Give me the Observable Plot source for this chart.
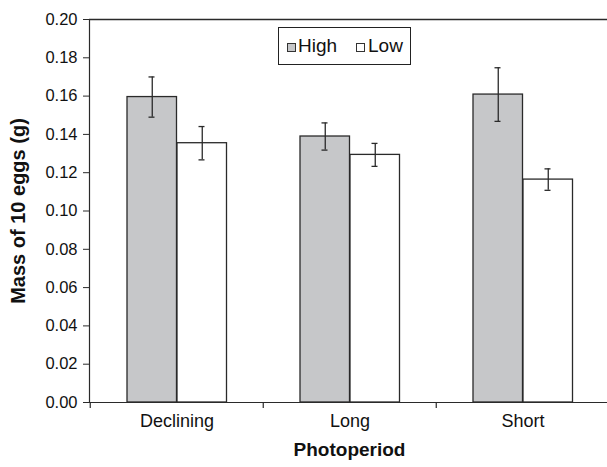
<!DOCTYPE html>
<html><head><meta charset="utf-8">
<script src="https://cdn.jsdelivr.net/npm/d3@7"></script>
<script src="https://cdn.jsdelivr.net/npm/@observablehq/plot@0.6"></script>
<style>
body{margin:0;background:#fff;}
#wrap{position:relative;width:607px;height:467px;overflow:hidden;font-family:"Liberation Sans",Arial,sans-serif;}
#legend{position:absolute;left:278px;top:27px;width:131px;height:36px;border:1px solid #222;background:#fff;font-size:19px;color:#111;}
#legend .sw{position:absolute;top:15px;width:7px;height:7px;border:1px solid #333;}
#legend .lb{position:absolute;top:0;line-height:36px;}
</style></head><body><div id="wrap"></div>
<script>
const photoperiods = ["Declining", "Long", "Short"];
const groups = ["High", "Low"];
const highMean = [0.1595, 0.1389, 0.1608];
const highErr = [0.0105, 0.0071, 0.0140];
const lowMean = [0.1354, 0.1293, 0.1164];
const lowErr = [0.0087, 0.0060, 0.0056];
const yTicks = [0, 0.02, 0.04, 0.06, 0.08, 0.10, 0.12, 0.14, 0.16, 0.18, 0.20];
const groupColors = ["#c6c7c9", "#ffffff"];

const high = photoperiods.map((p, i) => ({period: p, mean: highMean[i], lo: highMean[i] - highErr[i], hi: highMean[i] + highErr[i]}));
const low = photoperiods.map((p, i) => ({period: p, mean: lowMean[i], lo: lowMean[i] - lowErr[i], hi: lowMean[i] + lowErr[i]}));

const dark = "#2a2a2a";
const chart = Plot.plot({
  width: 607,
  height: 467,
  marginTop: 19,
  marginBottom: 65,
  marginLeft: 89,
  marginRight: 0,
  style: {fontFamily: "'Liberation Sans', Arial, sans-serif", background: "#fff", color: "#111"},
  x: {type: "band", domain: photoperiods, range: [89, 609.5], padding: 0},
  y: {domain: [0, 0.2]},
  marks: [
    Plot.barY(high, {x: "period", y: "mean", fill: groupColors[0], stroke: dark, strokeWidth: 1.3, insetLeft: 37, insetRight: 86.5}),
    Plot.barY(low, {x: "period", y: "mean", fill: groupColors[1], stroke: dark, strokeWidth: 1.3, insetLeft: 87, insetRight: 36.5}),
    Plot.ruleX(high, {x: "period", y1: "lo", y2: "hi", dx: -24.75, stroke: dark, strokeWidth: 1.3}),
    Plot.ruleX(low, {x: "period", y1: "lo", y2: "hi", dx: 25.25, stroke: dark, strokeWidth: 1.3}),
    Plot.tickY(high, {x: "period", y: "lo", insetLeft: 58.5, insetRight: 108.5, stroke: dark, strokeWidth: 1.3}),
    Plot.tickY(high, {x: "period", y: "hi", insetLeft: 58.5, insetRight: 108.5, stroke: dark, strokeWidth: 1.3}),
    Plot.tickY(low, {x: "period", y: "lo", insetLeft: 108.5, insetRight: 58.5, stroke: dark, strokeWidth: 1.3}),
    Plot.tickY(low, {x: "period", y: "hi", insetLeft: 108.5, insetRight: 58.5, stroke: dark, strokeWidth: 1.3}),
    Plot.ruleY([0.2], {stroke: dark, strokeWidth: 1.3}),
    Plot.ruleY([0], {stroke: dark, strokeWidth: 1.2}),
    Plot.frame({anchor: "left", stroke: dark, strokeWidth: 1.2}),
    Plot.ruleX(photoperiods, {x: d => d, y1: 0, y2: 0, dx: -86.75, insetBottom: -6, stroke: dark, strokeWidth: 1.2}),
    Plot.axisY({ticks: yTicks, tickFormat: d => d.toFixed(2), tickSize: 6, tickPadding: 6, fontSize: 16.5, stroke: dark, label: null}),
    Plot.axisX({tickSize: 0, tickPadding: 12, fontSize: 18, label: null}),
    Plot.text(["Mass of 10 eggs (g)"], {text: d => d, frameAnchor: "left", textAnchor: "middle", rotate: -90, dx: -71, fontSize: 20, fontWeight: "bold", fill: "#111"}),
    Plot.text(["Photoperiod"], {text: d => d, frameAnchor: "bottom", textAnchor: "middle", dx: 1, dy: 53, fontSize: 19, fontWeight: "bold", fill: "#111"})
  ]
});
const wrap = document.getElementById("wrap");
wrap.appendChild(chart);
const lg = document.createElement("div");
lg.id = "legend";
lg.innerHTML =
  `<div class="sw" style="left:8px;background:${groupColors[0]}"></div><div class="lb" style="left:19px">${groups[0]}</div>` +
  `<div class="sw" style="left:77px;background:${groupColors[1]}"></div><div class="lb" style="left:89px">${groups[1]}</div>`;
wrap.appendChild(lg);
</script></body></html>
